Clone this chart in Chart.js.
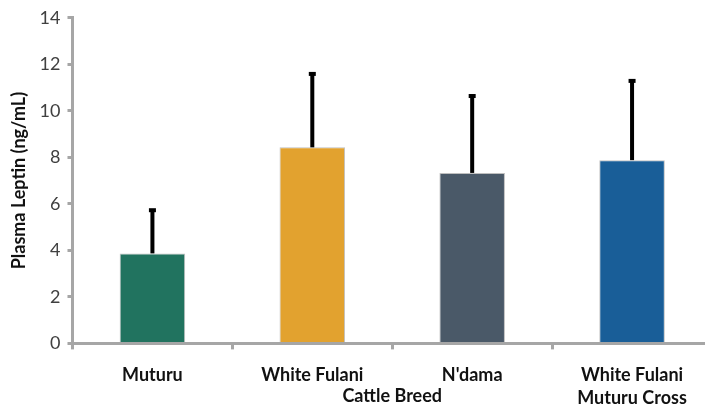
<!DOCTYPE html>
<html>
<head>
<meta charset="utf-8">
<script src="https://cdn.jsdelivr.net/npm/chart.js@4.4.0/dist/chart.umd.min.js"></script>
<style>
  html, body { margin: 0; padding: 0; background: #fff; overflow: hidden; }
  #wrap { width: 714px; height: 411px; }
</style>
</head>
<body>
<div id="wrap"><canvas id="grafico"></canvas></div>
<script>
const racas = [["Muturu"], ["White Fulani"], ["N'dama"], ["White Fulani", "Muturu Cross"]];
const mediasLeptina = [3.87, 8.43, 7.33, 7.88];
const desviosLeptina = [1.9, 3.2, 3.35, 3.45];
const coresBarras = ["#21735F", "#E2A22F", "#4A5968", "#195E98"];
const ticksY = [0, 2, 4, 6, 8, 10, 12, 14];

// barras de erro (so a parte de cima)
const barrasErro = {
  id: "barrasErro",
  afterDatasetsDraw(chart) {
    const ctx = chart.ctx;
    const escalaY = chart.scales.y;
    const meta = chart.getDatasetMeta(0);
    ctx.save();
    ctx.fillStyle = "#000";
    meta.data.forEach((barra, i) => {
      const topo = escalaY.getPixelForValue(mediasLeptina[i] + desviosLeptina[i]);
      ctx.fillRect(barra.x - 2, topo, 4, barra.y - topo);
      ctx.fillRect(barra.x - 3.5, topo - 1, 7, 4);
    });
    ctx.restore();
  }
};

const ctx = document.getElementById("grafico").getContext("2d");
let myChart = new Chart(ctx, {
  type: "bar",
  data: {
    labels: racas,
    datasets: [
      {
        label: "Plasma Leptin",
        data: mediasLeptina,
        backgroundColor: coresBarras,
        borderColor: "rgba(0,0,0,0.25)",
        borderWidth: 1,
        categoryPercentage: 1,
        barPercentage: 0.41,
      },
    ],
  },
  options: {
    responsive: true,
    maintainAspectRatio: false,
    animation: false,
    layout: { padding: { top: 5, right: 2, left: 8, bottom: 4 } },
    plugins: {
      legend: { display: false },
      tooltip: { enabled: false },
    },
    scales: {
      x: {
        grid: {
          display: true,
          drawOnChartArea: false,
          color: "#A6A6A6",
          lineWidth: 3,
          tickLength: 6,
          offset: true,
        },
        border: { color: "#A6A6A6", width: 3 },
        ticks: {
          color: "#111",
          font: { family: "Lato", size: 18, weight: "bold", lineHeight: 1.25 },
          padding: 15,
          maxRotation: 0,
        },
        title: {
          display: true,
          text: "Cattle Breed",
          color: "#111",
          font: { family: "Lato", size: 18, weight: "bold", lineHeight: 1.2 },
          padding: { top: -39, bottom: 0 },
        },
      },
      y: {
        min: 0,
        max: 14,
        afterBuildTicks: (eixo) => { eixo.ticks = ticksY.map((v) => ({ value: v })); },
        grid: {
          display: true,
          drawOnChartArea: false,
          color: "#A6A6A6",
          lineWidth: 3,
          tickLength: 5,
        },
        border: { color: "#A6A6A6", width: 3 },
        ticks: {
          color: "#404040",
          font: { family: "Lato", size: 18 },
          padding: 7,
        },
        title: {
          display: true,
          text: "Plasma Leptin (ng/mL)",
          color: "#111",
          font: { family: "Lato", size: 18, weight: "bold" },
          padding: { top: 0, bottom: 3 },
        },
      },
    },
  },
  plugins: [barrasErro],
});
</script>
</body>
</html>
